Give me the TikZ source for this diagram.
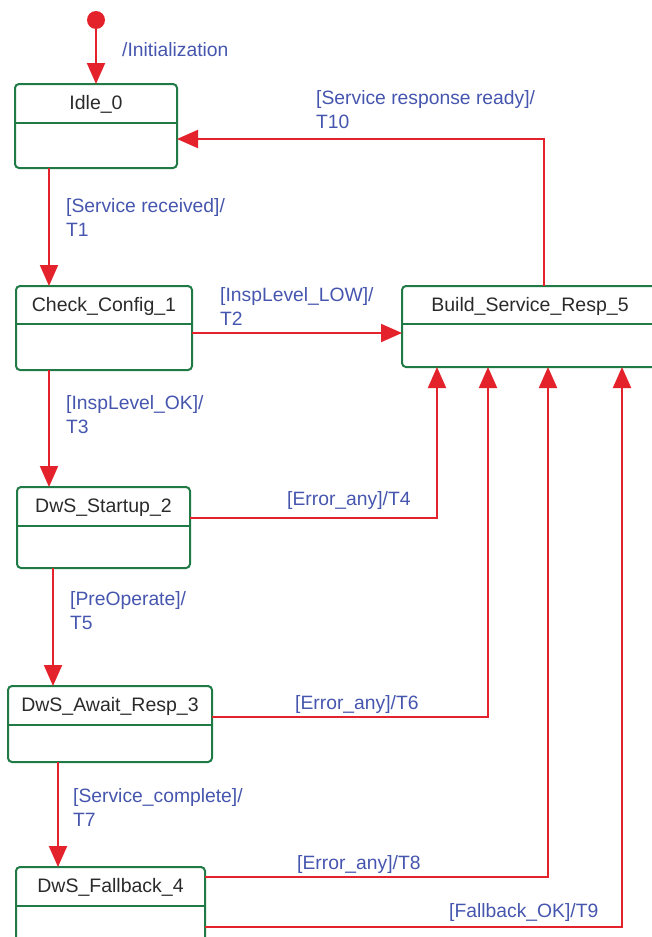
\documentclass[tikz,border=0pt]{standalone}
\usepackage{fontspec}
\setmainfont{Liberation Sans}
\usetikzlibrary{arrows.meta}
\definecolor{sred}{HTML}{E3222B}
\definecolor{sgreen}{HTML}{1F7A45}
\definecolor{sblue}{HTML}{4656AE}
\definecolor{stext}{HTML}{2A2A2A}
\begin{document}
\begin{tikzpicture}[x=1pt,y=-1pt,
  state/.style={draw=sgreen,line width=2pt,rounded corners=4pt,inner sep=0pt,outer sep=0pt},
  divider/.style={draw=sgreen,line width=2pt},
  sname/.style={text=stext,font=\fontsize{19.5}{23}\selectfont,inner sep=0pt,anchor=base},
  lbl/.style={text=sblue,font=\fontsize{19.3}{24}\selectfont,inner sep=0pt,align=left},
  arr/.style={draw=sred,line width=2pt,-{Triangle[length=21pt,width=18pt]}},
]
\useasboundingbox (0,0) rectangle (651,937);

% states
\node[state,minimum width=162pt,minimum height=84pt] (idle) at (96,126) {};
\draw[divider] (idle.west |- 0,123) -- (idle.east |- 0,123);
\node[sname] (idlen) at (96,109.5) {Idle\_0};

\node[state,minimum width=176pt,minimum height=84pt] (check) at (104,328) {};
\draw[divider] (check.west |- 0,324) -- (check.east |- 0,324);
\node[sname] (checkn) at (104,311) {Check\_Config\_1};

\node[state,minimum width=173pt,minimum height=81pt] (start) at (103.5,527.5) {};
\draw[divider] (start.west |- 0,526) -- (start.east |- 0,526);
\node[sname] (startn) at (103.5,512) {DwS\_Startup\_2};

\node[state,minimum width=204pt,minimum height=76pt] (await) at (110,724) {};
\draw[divider] (await.west |- 0,725) -- (await.east |- 0,725);
\node[sname] (awaitn) at (110,711) {DwS\_Await\_Resp\_3};

\node[state,minimum width=189pt,minimum height=80pt] (fall) at (110.5,907) {};
\draw[divider] (fall.west |- 0,906) -- (fall.east |- 0,906);
\node[sname] (falln) at (110.5,892) {DwS\_Fallback\_4};

\node[state,minimum width=258pt,minimum height=81pt] (bsr) at (531,326.5) {};
\draw[divider] (bsr.west |- 0,324) -- (bsr.east |- 0,324);
\node[sname] (bsrn) at (530,311) {Build\_Service\_Resp\_5};

% initial
\node[circle,fill=sred,minimum size=18pt,inner sep=0pt] (init) at (96,20) {};
\draw[arr] (init) -- (idle);
\node[lbl,anchor=base west] (l0) at (122,56) {/Initialization};

% transitions
\draw[arr] (idle.south -| 49,0) -- (check.north -| 49,0);
\node[lbl,anchor=west] (l1) at (66,218) {[Service received]/\\T1};

\draw[arr] (check.east |- 0,333) -- (bsr.west |- 0,333);
\node[lbl,anchor=west] (l2) at (220,307) {[InspLevel\_LOW]/\\T2};

\draw[arr] (check.south -| 49,0) -- (start.north -| 49,0);
\node[lbl,anchor=west] (l3) at (66,415) {[InspLevel\_OK]/\\T3};

\draw[arr] (start.east |- 0,518) -| (bsr.south -| 437,0);
\node[lbl,anchor=base west] (l4) at (287,505) {[Error\_any]/T4};

\draw[arr] (start.south -| 53,0) -- (await.north -| 53,0);
\node[lbl,anchor=west] (l5) at (70,611) {[PreOperate]/\\T5};

\draw[arr] (await.east |- 0,717) -| (bsr.south -| 488,0);
\node[lbl,anchor=base west] (l6) at (295,709) {[Error\_any]/T6};

\draw[arr] (await.south -| 58,0) -- (fall.north -| 58,0);
\node[lbl,anchor=west] (l7) at (73,807) {[Service\_complete]/\\T7};

\draw[arr] (fall.east |- 0,877) -| (bsr.south -| 548,0);
\node[lbl,anchor=base west] (l8) at (297,869) {[Error\_any]/T8};

\draw[arr] (fall.east |- 0,927) -| (bsr.south -| 622,0);
\node[lbl,anchor=base west] (l9) at (449,917) {[Fallback\_OK]/T9};

\draw[arr] (bsr.north -| 544,0) |- (idle.east |- 0,139);
\node[lbl,anchor=west] (l10) at (316,110) {[Service response ready]/\\T10};
\end{tikzpicture}
\end{document}
